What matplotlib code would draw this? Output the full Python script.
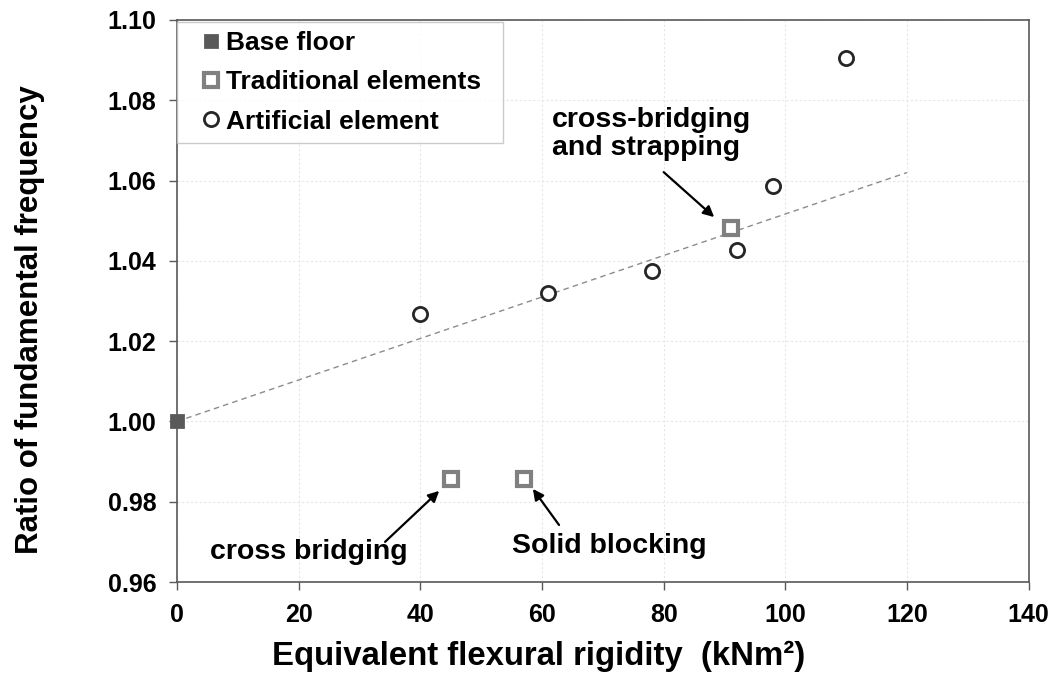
import matplotlib
matplotlib.use("Agg")
import matplotlib.pyplot as plt
from matplotlib.ticker import FormatStrFormatter, MultipleLocator

plt.rcParams['font.family'] = ['Liberation Sans', 'DejaVu Sans']
plt.rcParams['font.weight'] = 'bold'

# Data
base_x = [0]
base_y = [1.000]
trad_x = [45, 57, 91]
trad_y = [0.9857, 0.9857, 1.0482]
art_x = [40, 61, 78, 92, 98, 110]
art_y = [1.0268, 1.0321, 1.0374, 1.0427, 1.0586, 1.0905]
trend_x = [0, 120]
trend_y = [1.000, 1.062]

fig = plt.figure(figsize=(10.53, 6.77), dpi=100)
ax = fig.add_axes([0.1681, 0.1403, 0.8088, 0.8302])

ax.plot(trend_x, trend_y, linestyle=(0, (4, 3)), color='#8c8c8c', linewidth=1.0, zorder=2)
ax.plot(base_x, base_y, linestyle='none', marker='s', markersize=9, markeredgewidth=2,
        markerfacecolor='#595959', markeredgecolor='#595959', label='Base floor',
        zorder=4, clip_on=False)
ax.plot(trad_x, trad_y, linestyle='none', marker='s', markersize=10,
        markerfacecolor='white', markeredgecolor='#808080', markeredgewidth=3,
        label='Traditional elements', zorder=3)
ax.plot(art_x, art_y, linestyle='none', marker='o', markersize=10.2,
        markerfacecolor='white', markeredgecolor='#262626', markeredgewidth=2.0,
        label='Artificial element', zorder=3)

ax.set_xlim(0, 140)
ax.set_ylim(0.96, 1.10)
ax.xaxis.set_major_locator(MultipleLocator(20))
ax.yaxis.set_major_locator(MultipleLocator(0.02))
ax.yaxis.set_major_formatter(FormatStrFormatter('%.2f'))
ax.grid(True, color='#e6e6e6', linestyle=(0, (2, 2)), linewidth=0.8, zorder=0)
ax.set_axisbelow(True)

for s in ax.spines.values():
    s.set_color('#595959')
    s.set_linewidth(1.2)
ax.tick_params(axis='both', direction='out', length=6, width=1.0, color='#595959',
               labelsize=18, pad=9)
for lbl in ax.get_xticklabels() + ax.get_yticklabels():
    lbl.set_fontweight('bold')

ax.set_xlabel('Equivalent flexural rigidity  (kNm\u00b2)', fontsize=23.7, fontweight='bold')
ax.xaxis.label.set_va('center')
ax.xaxis.set_label_coords(0.425, -0.133)
ax.set_ylabel('Ratio of fundamental frequency', fontsize=22.5, fontweight='bold')
ax.yaxis.label.set_va('center')
ax.yaxis.set_label_coords(-0.1726, 0.467)

leg = ax.legend(loc='upper left', bbox_to_anchor=(0.0, 0.0, 0.383, 0.996), mode='expand',
                fontsize=19, frameon=True, fancybox=False, edgecolor='#bfbfbf',
                handlelength=1.9, handletextpad=-0.4, borderpad=0.35, labelspacing=0.57,
                borderaxespad=0.0)
leg.get_frame().set_linewidth(1.0)
for t in leg.get_texts():
    t.set_fontweight('bold')

arrow = dict(arrowstyle='-|>', color='black', lw=1.6, mutation_scale=16, shrinkA=0, shrinkB=0)
ax.text(61.6, 1.0717, 'cross-bridging\nand strapping', fontsize=20.5, fontweight='bold',
        ha='left', va='center', linespacing=1.1)
ax.annotate('', xy=(88.3, 1.0509), xytext=(80.0, 1.0621), arrowprops=dict(arrow))
ax.text(5.5, 0.9675, 'cross bridging', fontsize=20.5, fontweight='bold', ha='left', va='center')
ax.annotate('', xy=(43.1, 0.9827), xytext=(34.2, 0.9700), arrowprops=dict(arrow))
ax.text(55.1, 0.9690, 'Solid blocking', fontsize=20.5, fontweight='bold', ha='left', va='center')
ax.annotate('', xy=(58.5, 0.9832), xytext=(62.8, 0.9742), arrowprops=dict(arrow))

fig.savefig('out.png', dpi=100)
